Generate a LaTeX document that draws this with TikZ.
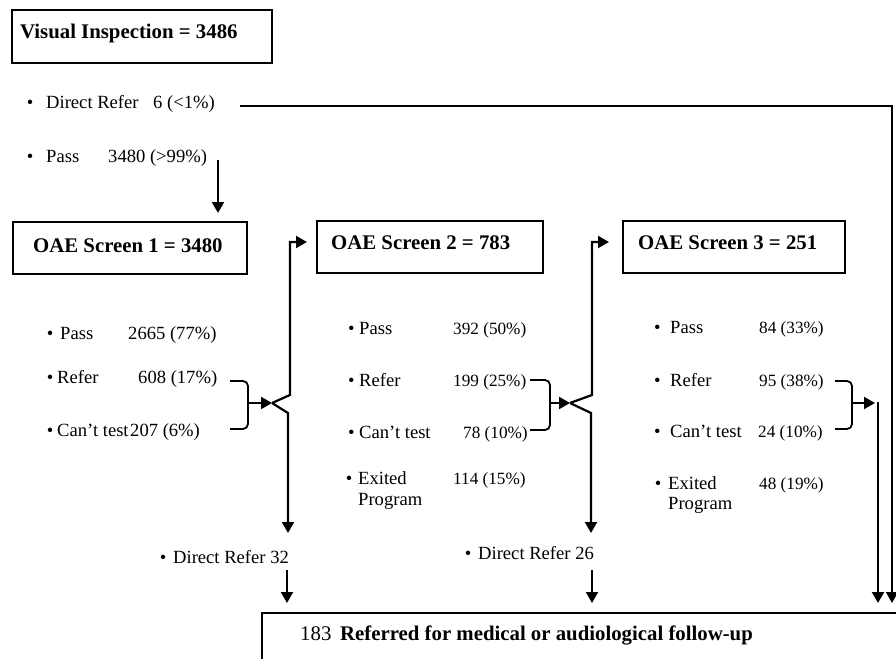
\documentclass[tikz,border=0pt]{standalone}
\usepackage{fontspec}
\setmainfont{Liberation Serif}
\usetikzlibrary{arrows.meta}
\newcommand\bul[2][6.75pt]{\llap{\textbullet\hspace{#1}}#2}
\begin{document}
\begin{tikzpicture}[x=1pt,y=-1pt,
  hdr/.style={font=\fontsize{20.8}{24}\selectfont\bfseries, inner sep=0pt, anchor=base west},
  itm/.style={font=\fontsize{18.6}{21}\selectfont, inner sep=0pt, anchor=base west},
  num/.style={font=\fontsize{17.2}{21}\selectfont, inner sep=0pt, anchor=base west},
  box/.style={draw, line width=2pt, anchor=north west, inner sep=0pt},
  conn/.style={line width=2.2pt},
  arr/.style={conn, -{Triangle[length=11pt,width=12pt]}},
  brace/.style={line width=1.8pt, rounded corners=5pt}]
\useasboundingbox (0,0) rectangle (896,658);
\clip (0,0) rectangle (896,658);

% Visual inspection
\node[box, minimum width=260pt, minimum height=53pt] (vi) at (11,9) {};
\node[hdr] (vit) at (20,39) {Visual Inspection = 3486};
\node[itm] (vidr) at (46,109) {\bul[12.75pt]{Direct Refer}};
\node[itm] (vidrn) at (153,109) {6 (<1\%)};
\node[itm] (vip) at (46,162) {\bul[12.75pt]{Pass}};
\node[itm] (vipn) at (108,162) {3480 (>99\%)};

% OAE 1
\node[box, minimum width=234pt, minimum height=52pt] (o1) at (12,221) {};
\node[hdr] (o1t) at (33,252) {OAE Screen 1 = 3480};
\node[itm] (o1p) at (60,339) {\bul{Pass}};
\node[itm] (o1pn) at (128,339) {2665 (77\%)};
\node[itm] (o1r) at (57,383) {\bul[3.75pt]{Refer}};
\node[itm] (o1rn) at (138,383) {608 (17\%)};
\node[itm] (o1c) at (57,436) {\bul[3.75pt]{Can’t test}};
\node[itm] (o1cn) at (130,436) {207 (6\%)};

% OAE 2
\node[box, minimum width=226pt, minimum height=52pt] (o2) at (316,220) {};
\node[hdr] (o2t) at (331,249) {OAE Screen 2 = 783};
\node[itm] (o2p) at (359,334) {\bul[4.5pt]{Pass}};
\node[num] (o2pn) at (453,334) {392 (50\%)};
\node[itm] (o2r) at (359,386) {\bul[4.5pt]{Refer}};
\node[num] (o2rn) at (453,386) {199 (25\%)};
\node[itm] (o2c) at (359,438) {\bul[4.5pt]{Can’t test}};
\node[num] (o2cn) at (463,438) {78 (10\%)};
\node[itm] (o2e) at (358,484) {\bul[5.75pt]{Exited}};
\node[itm] (o2e2) at (358,505) {Program};
\node[num] (o2en) at (453,484) {114 (15\%)};

% OAE 3
\node[box, minimum width=222pt, minimum height=52pt] (o3) at (622,220) {};
\node[hdr] (o3t) at (638,249) {OAE Screen 3 = 251};
\node[itm] (o3p) at (670,333) {\bul[9.5pt]{Pass}};
\node[num] (o3pn) at (759,333) {84 (33\%)};
\node[itm] (o3r) at (670,386) {\bul[9.5pt]{Refer}};
\node[num] (o3rn) at (759,386) {95 (38\%)};
\node[itm] (o3c) at (670,437) {\bul[9.5pt]{Can’t test}};
\node[num] (o3cn) at (758,437) {24 (10\%)};
\node[itm] (o3e) at (668,489) {\bul{Exited}};
\node[itm] (o3e2) at (668,509) {Program};
\node[num] (o3en) at (759,489) {48 (19\%)};

% Direct refers
\node[itm] (dr1) at (173,563) {\bul{Direct Refer 32}};
\node[itm] (dr2) at (478,559) {\bul{Direct Refer 26}};

% Final box
\node[box, minimum width=700pt, minimum height=80pt] (fin) at (261,612) {};
\node[itm, font=\fontsize{20.8}{24}\selectfont] (n183) at (300,640) {183};
\node[hdr] (fint) at (340,640) {Referred for medical or audiological follow-up};

% coordinates
\coordinate (drL) at (240,106);
\coordinate (drR) at (892,603);
\coordinate (pT) at (218,160);
\coordinate (pB) at (218,213);
\coordinate (v1) at (272,403);
\coordinate (v2) at (570,403);
\coordinate (d1T) at (287,570);
\coordinate (d1B) at (287,603);
\coordinate (d2T) at (592,570);
\coordinate (d2B) at (592,603);

% connectors
\draw[arr, line width=1.5pt] (drL) -| (drR);
\draw[arr] (pT) -- (pB);

\draw[brace] (230,381) -- (248,381) -- (248,429) -- (230,429);
\draw[arr] (248,403) -- (v1);
\draw[arr] (v1) -- (290,395) -- (290,242) -- (307,242);
\draw[arr] (v1) -- (288,413) -- (288,533);
\draw[arr] (d1T) -- (d1B);

\draw[brace] (530,380) -- (550,380) -- (550,430) -- (530,430);
\draw[arr] (550,403) -- (v2);
\draw[arr] (v2) -- (592,395) -- (592,242) -- (609,242);
\draw[arr] (v2) -- (591,413) -- (591,533);
\draw[arr] (d2T) -- (d2B);

\draw[brace] (835,381) -- (852,381) -- (852,429) -- (835,429);
\draw[arr] (852,403) -- (875,403);
\draw[arr] (878,402) -- (878,603);
\end{tikzpicture}
\end{document}
